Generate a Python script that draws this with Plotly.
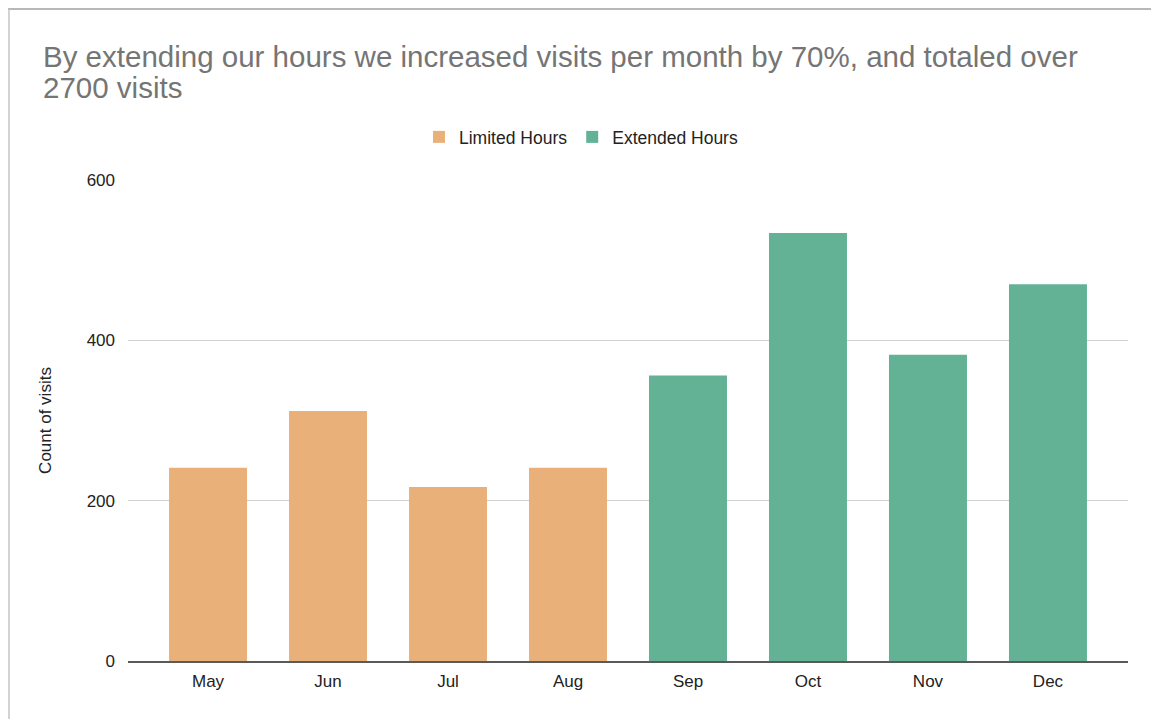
import plotly.graph_objects as go

limited_months = ["May", "Jun", "Jul", "Aug"]
limited_visits = [241, 312, 217, 241]
extended_months = ["Sep", "Oct", "Nov", "Dec"]
extended_visits = [356, 534, 382, 470]
all_months = limited_months + extended_months
y_ticks = [0, 200, 400, 600]

title_line1 = "By extending our hours we increased visits per month by 70%, and totaled over"
title_line2 = "2700 visits"

W, H = 1151, 711
L, T, R, B = 120, 172, 31, 58
PW, PH = W - L - R, H - T - B
TITLE_FONT = dict(family="Liberation Sans, Arial, sans-serif", size=29.5, color="#757575")

fig = go.Figure()
fig.add_trace(go.Bar(x=limited_months, y=limited_visits, name="Limited Hours",
                     marker=dict(color="#EAB07A", line=dict(width=0)), width=0.65))
fig.add_trace(go.Bar(x=extended_months, y=extended_visits, name="Extended Hours",
                     marker=dict(color="#64B295", line=dict(width=0)), width=0.65))

fig.update_layout(
    width=W, height=H,
    paper_bgcolor="white", plot_bgcolor="white",
    barmode="relative",
    margin=dict(l=L, r=R, t=T, b=B),
    font=dict(family="Liberation Sans, Arial, sans-serif", color="#222222"),
    title=dict(text=title_line1, xref="container", yref="container",
               x=35/W, xanchor="left", y=1-49/H, yanchor="middle",
               font=TITLE_FONT),
    annotations=[
        dict(text=title_line2, xref="paper", yref="paper",
             x=(33-L)/PW, xanchor="left", y=1+(T-79)/PH, yanchor="middle",
             showarrow=False, font=TITLE_FONT),
    ],
    legend=dict(orientation="h", xref="paper", x=(573-L)/PW, xanchor="center",
                yref="paper", y=1+(T-129)/PH, yanchor="middle",
                font=dict(size=17.5, color="#222222"), itemwidth=30,
                traceorder="normal"),
    showlegend=True,
    shapes=[
        dict(type="line", xref="paper", yref="paper",
             x0=-L/PW, x1=(W-L)/PW, y0=1+(T-1)/PH, y1=1+(T-1)/PH,
             line=dict(color="#A0A0A0", width=1.5)),
        dict(type="line", xref="paper", yref="paper",
             x0=(1-L)/PW, x1=(1-L)/PW, y0=1+(T-1)/PH, y1=-B/PH,
             line=dict(color="#C4C4C4", width=1.5)),
    ],
)
fig.update_xaxes(categoryorder="array", categoryarray=all_months,
                 range=[-0.667, 7.667], showgrid=False,
                 showline=True, linecolor="#5A5A5A", linewidth=1.5,
                 ticks="", ticklabelstandoff=4,
                 tickfont=dict(size=17, color="#222222"))
fig.update_yaxes(range=[0, 600], tickvals=y_ticks, showgrid=True,
                 gridcolor="#D0D0D0", gridwidth=1, zeroline=False,
                 showline=False, ticks="", ticklabelstandoff=12,
                 tickfont=dict(size=17, color="#222222"),
                 title=dict(text="Count of visits", font=dict(size=17, color="#222222"),
                            standoff=30))

fig.write_html("out.html")
